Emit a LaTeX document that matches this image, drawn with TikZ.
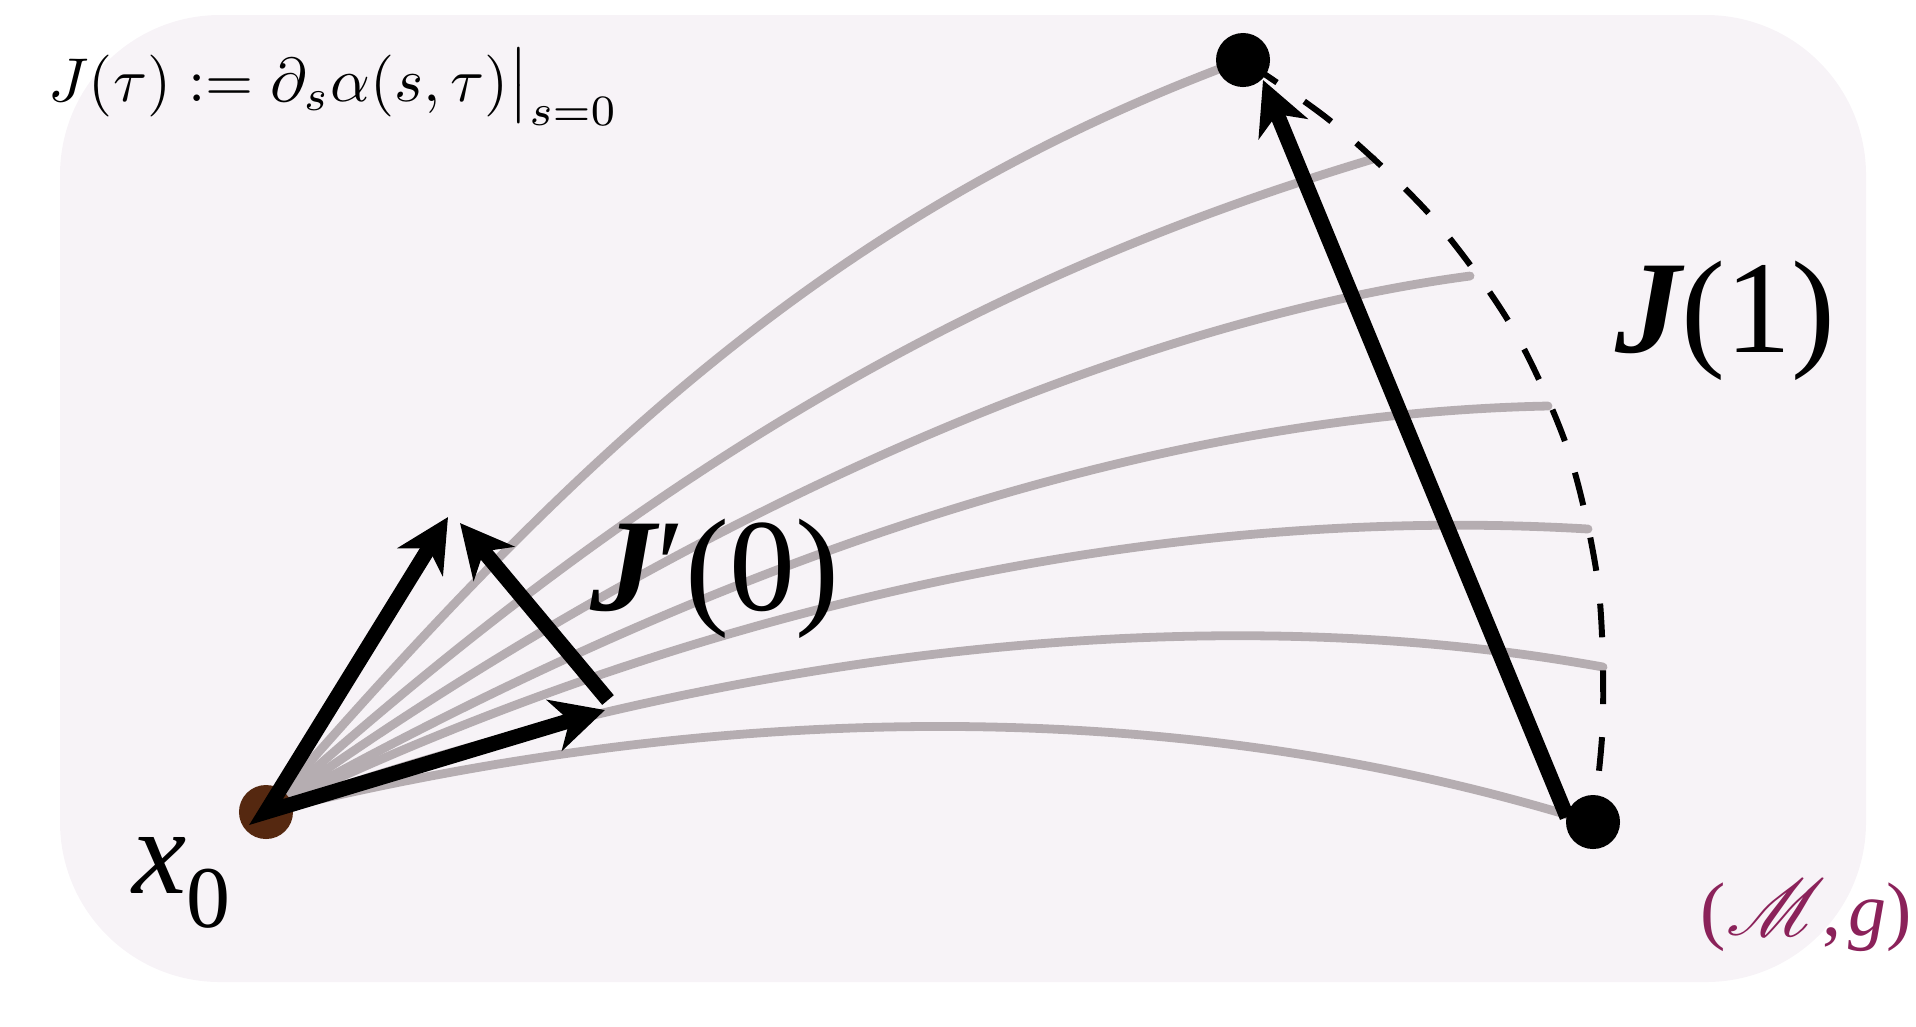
\documentclass[tikz,border=0pt]{standalone}
\usepackage{fontspec}
\usepackage{graphicx}
\usepackage{mathrsfs}
\usetikzlibrary{arrows.meta}
\newfontfamily\tms{Liberation Serif}
\definecolor{bgc}{RGB}{247,243,247}
\definecolor{curvec}{RGB}{181,173,177}
\definecolor{dotbrown}{RGB}{85,40,16}
\definecolor{mgpurple}{RGB}{139,34,90}
\begin{document}
\begin{tikzpicture}[x=0.01cm,y=-0.01cm,
  geo/.style={draw=curvec, line width=2.5pt, line cap=round},
  vecline/.style={line width=4.3pt, line join=miter},
  headend/.style={-{Stealth[length=15pt,width=15pt,inset=4.5pt]}},
  headboth/.style={{Stealth[length=15pt,width=15pt,inset=4.5pt]}-{Stealth[length=15pt,width=15pt,inset=4.5pt]}},
  dotnode/.style={circle, fill=black, inner sep=0pt, minimum size=0.54cm},
  lbl/.style={inner sep=0pt, anchor=base west}]
\useasboundingbox (0,0) rectangle (1916,1026);
\fill[bgc, rounded corners=1.6cm] (60,15) rectangle (1866,982);

\coordinate (o) at (266,812);
% family of geodesics
\draw[geo] (o) .. controls (566,467) and (823,215) .. (1243,60);
\draw[geo] (o) .. controls (646,470) and (973,279) .. (1373,159);
\draw[geo] (o) .. controls (646,538) and (1100,325) .. (1470,276);
\draw[geo] (o) .. controls (646,599) and (1098,415) .. (1548,406);
\draw[geo] (o) .. controls (620,640) and (1100,500) .. (1588,529);
\draw[geo] (o) .. controls (650,675) and (1150,585) .. (1603,667);
\draw[geo] (o) .. controls (700,705) and (1150,690) .. (1568,815);

% dashed end curve
\draw[line width=1.7pt, dash pattern=on 9.6pt off 9.4pt, dash phase=-2pt]
  plot[smooth] coordinates {(1243,60) (1333,123) (1432,217) (1512,327) (1568,450) (1598,583) (1603,718) (1593,822)};

% points
\node[dotnode, fill=dotbrown] (x0) at (o) {};
\node[dotnode] (p1) at (1243,60) {};
\node[dotnode] (p2) at (1593,822) {};

% vectors
\coordinate (a1) at (448,517);
\coordinate (a2) at (605,710);
\coordinate (a3s) at (608,700);
\coordinate (a3) at (460,523);
\coordinate (j1s) at (1567,817);
\coordinate (j1) at (1263,80);
\draw[vecline, headboth] (a1) -- (x0.center) -- (a2);
\draw[vecline, headend] (a3s) -- (a3);
\draw[vecline, headend] (j1s) -- (j1);

% labels
\node[lbl] (formula) at (48,101) {\scalebox{1.76}{$J(\tau) := \partial_s\alpha(s,\tau)\big|_{s=0}$}};
\node[lbl] (jp0) at (590,610) {\tms\fontsize{37.5}{40}\selectfont{\bfseries\itshape J}′(0)};
\node[lbl] (j1lbl) at (1615,352) {\tms\fontsize{37.5}{40}\selectfont{\bfseries\itshape J}(1)};
\node[lbl] (x0lbl) at (132,893) {\tms\fontsize{34.7}{38}\selectfont\itshape x\upshape\raisebox{-9.7pt}{\fontsize{25}{28}\selectfont 0}};
\node[lbl, text=mgpurple] (mg) at (1700,935) {\tms\fontsize{21.6}{24}\selectfont (\scalebox{1.1}{$\mathscr{M}$}\kern-1pt,\kern2pt\itshape g\upshape)};
\end{tikzpicture}
\end{document}
